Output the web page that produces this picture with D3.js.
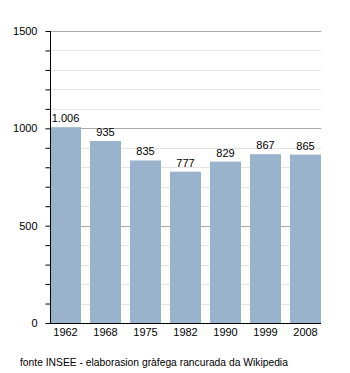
<!DOCTYPE html>
<html>
<head>
<meta charset="utf-8">
<script src="https://cdn.jsdelivr.net/npm/d3@7"></script>
<style>
    body { margin: 0; background: #fff; }
    text { font-family: "Liberation Sans", Arial, sans-serif; fill: #000; }
</style>
</head>
<body>
<div id="chart"></div>
<script>
// Data
// ============================================================================
const years = ["1962", "1968", "1975", "1982", "1990", "1999", "2008"];
const population = [1006, 935, 835, 777, 829, 867, 865];
const yTicks = [0, 500, 1000, 1500];
const source = "fonte INSEE - elaborasion gràfega rancurada da Wikipedia";

const width = 350,
    height = 373,
    plot = {left: 50, right: 321, top: 31, bottom: 323};

// Helpers
// ============================================================================
const fmt = v => d3.format(",")(v).replace(/,/g, ".");

// Plot
// ============================================================================
const svg = d3.select("#chart")
    .append("svg")
        .attr("width", width)
        .attr("height", height);

const x = d3.scaleBand()
    .domain(years)
    .range([plot.left, plot.right])
    .paddingInner(0.225)
    .paddingOuter(0);

const y = d3.scaleLinear()
    .domain([0, 1500])
    .range([plot.bottom, plot.top]);

// Grid lines
svg.append("g")
    .selectAll("line")
    .data(d3.range(100, 1501, 100))
    .join("line")
        .attr("x1", plot.left)
        .attr("x2", plot.right)
        .attr("y1", d => Math.round(y(d)) + 0.5)
        .attr("y2", d => Math.round(y(d)) + 0.5)
        .attr("stroke", d => d % 500 === 0 ? "#aaa" : "#e4e4e4")
        .attr("stroke-width", 1);

// Bars
svg.append("g")
    .selectAll("rect")
    .data(population)
    .join("rect")
        .attr("x", (d, i) => x(years[i]))
        .attr("y", d => y(d))
        .attr("width", x.bandwidth())
        .attr("height", d => y(0) - y(d))
        .attr("fill", "#9ab3cc");

// Value labels
svg.append("g")
    .selectAll("text")
    .data(population)
    .join("text")
        .attr("x", (d, i) => x(years[i]) + x.bandwidth() / 2)
        .attr("y", d => y(d) - 5)
        .attr("text-anchor", "middle")
        .attr("font-size", 11)
        .text(d => fmt(d));

// Left axis
const yAxis = svg.append("g")
    .attr("transform", "translate(" + (plot.left + 0.5) + ",0)")
    .call(d3.axisLeft(y)
        .tickValues(d3.range(0, 1501, 100))
        .tickSize(5)
        .tickPadding(7)
        .tickFormat(d => yTicks.includes(d) ? d : ""));
yAxis.select(".domain").attr("stroke", "#000").attr("d", "M0," + plot.top + "V" + plot.bottom);
yAxis.selectAll("text").attr("font-size", 11).attr("font-family", "Liberation Sans, Arial, sans-serif").attr("dx", -1);

// Bottom axis
const xAxis = svg.append("g")
    .attr("transform", "translate(0," + (plot.bottom + 0.5) + ")")
    .call(d3.axisBottom(x).tickSize(0).tickPadding(5));
xAxis.select(".domain").attr("stroke", "#000").attr("d", "M" + plot.left + ",0H" + plot.right);
xAxis.selectAll("text").attr("font-size", 11).attr("font-family", "Liberation Sans, Arial, sans-serif");

// Source
svg.append("text")
    .attr("x", 20)
    .attr("y", 366)
    .attr("font-size", 10.3)
    .text(source);
</script>
</body>
</html>
